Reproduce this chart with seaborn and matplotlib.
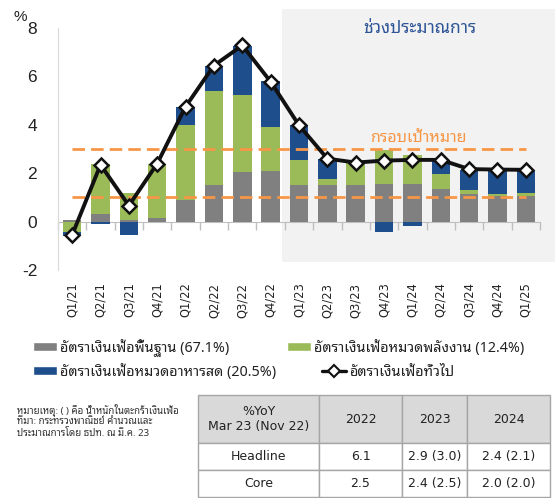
import numpy as np
import pandas as pd
import matplotlib
matplotlib.use("Agg")
import matplotlib.pyplot as plt
import seaborn as sns
from matplotlib.patches import Patch, Rectangle
from matplotlib.lines import Line2D

# ---------------- data ----------------
quarters = ["Q1/21", "Q2/21", "Q3/21", "Q4/21", "Q1/22", "Q2/22", "Q3/22", "Q4/22",
            "Q1/23", "Q2/23", "Q3/23", "Q4/23", "Q1/24", "Q2/24", "Q3/24", "Q4/24", "Q1/25"]
core = [0.05, 0.30, 0.05, 0.15, 0.90, 1.50, 2.05, 2.10, 1.50, 1.50, 1.50, 1.55, 1.55, 1.35, 1.15, 1.07, 1.07]
energy = [-0.45, 2.10, 1.15, 2.25, 3.10, 3.90, 3.20, 1.80, 1.05, 0.25, 0.95, 1.40, 1.20, 0.60, 0.15, 0.08, 0.13]
food = [-0.15, -0.08, -0.57, -0.03, 0.72, 1.05, 2.00, 1.90, 1.45, 0.85, 0.00, -0.45, -0.20, 0.60, 0.85, 1.00, 0.90]
headline = [-0.55, 2.35, 0.66, 2.40, 4.75, 6.45, 7.28, 5.78, 3.98, 2.60, 2.44, 2.52, 2.55, 2.55, 2.17, 2.15, 2.14]
target_band = [1.0, 3.0]

series_names = ["อัตราเงินเฟ้อพื้นฐาน (67.1%)", "อัตราเงินเฟ้อหมวดพลังงาน (12.4%)",
                "อัตราเงินเฟ้อหมวดอาหารสด (20.5%)"]
line_name = "อัตราเงินเฟ้อทั่วไป"
forecast_label = "ช่วงประมาณการ"
target_label = "กรอบเป้าหมาย"
yticks = [-2, 0, 2, 4, 6, 8]

footnotes = ["หมายเหตุ: ( ) คือ น้ำหนักในตะกร้าเงินเฟ้อ",
             "ที่มา: กระทรวงพาณิชย์ คำนวณและ",
             "ประมาณการโดย ธปท. ณ มี.ค. 23"]
table_cols = ["%YoY\nMar 23 (Nov 22)", "2022", "2023", "2024"]
table_rows = [["Headline", "6.1", "2.9 (3.0)", "2.4 (2.1)"],
              ["Core", "2.5", "2.4 (2.5)", "2.0 (2.0)"]]

# ---------------- style ----------------
sns.set_style("white")
THAI = ["Noto Sans Thai Looped", "DejaVu Sans"]
plt.rcParams["font.family"] = THAI

colors = ["#808080", "#9bbb59", "#1f4e8c"]
ORANGE = "#f79646"

W, H = 558, 498
fig = plt.figure(figsize=(W / 100, H / 100), dpi=100)

def fx(px):
    return px / W

def fy(py):
    return 1 - py / H

ax = fig.add_axes([fx(58), fy(270), fx(540) - fx(58), fy(28) - fy(270)])
ax.patch.set_visible(False)

n = len(quarters)
pos = np.arange(n)

# stacked bars with separate positive / negative stacks
pos_cum = np.zeros(n)
neg_cum = np.zeros(n)
for vals, col in zip([core, energy, food], colors):
    v = np.array(vals, dtype=float)
    bottom = np.where(v >= 0, pos_cum, neg_cum)
    df = pd.DataFrame({"q": quarters, "v": v})
    sns.barplot(data=df, x="q", y="v", color=col, width=0.65, bottom=bottom,
                saturation=1, ax=ax, zorder=2, linewidth=0)
    pos_cum = pos_cum + np.where(v >= 0, v, 0)
    neg_cum = neg_cum + np.where(v < 0, v, 0)

# target band dashed lines
ax.hlines(target_band, pos[0], pos[-1], colors=ORANGE, linewidth=2.0,
          linestyles=(0, (4.5, 2.2)), zorder=3)

# headline line
sns.lineplot(x=pos, y=headline, ax=ax, color="#111111", linewidth=2.8,
             marker="D", markersize=7.5, markerfacecolor="white",
             markeredgecolor="#111111", markeredgewidth=1.8, zorder=5)

ax.set_xlim(-0.5, n - 0.5)
ax.set_ylim(-2, 8)

# forecast shading
ax.add_patch(Rectangle((7.4, -1.67), 17.03 - 7.4, 8.79 + 1.67, facecolor="#f2f2f2",
                       edgecolor="none", zorder=0, clip_on=False))

# axes styling
for s in ["top", "right", "bottom"]:
    ax.spines[s].set_visible(False)
ax.spines["left"].set_color("#d9d9d9")
ax.set_xticks(pos)
ax.set_xticklabels(quarters, rotation=90, family=["DejaVu Sans"], fontsize=8.3, color="#222222")
ax.tick_params(axis="x", length=0, pad=9)
ax.set_yticks(yticks)
ax.set_yticklabels([str(t) for t in yticks], family=["Liberation Sans"], fontsize=12.5, color="#222222")
ax.tick_params(axis="y", length=0, pad=15)
ax.set_xlabel("")
ax.set_ylabel("")

# zero axis line with category-boundary tick marks
zax = ax.secondary_xaxis(0, transform=ax.transData)
zax.set_xticks(np.arange(-0.5, n, 1))
zax.set_xticklabels([])
zax.tick_params(length=6, color="#bfbfbf", width=1, direction="out")
zax.spines["bottom"].set_color("#bfbfbf")

# annotations
ax.text(12.27, 8.0, forecast_label, color="#2e5597", fontsize=12.5, ha="center", va="center", zorder=6)
ax.text(12.2, 3.45, target_label, color=ORANGE, fontsize=11.5, ha="center", va="center", zorder=6)
fig.text(fx(20), fy(17), "%", fontsize=11, ha="center", va="center", family=["Liberation Sans"], color="#222222")

# legends (one per entry, positioned like the reference)
def add_leg(handle, label, x, y, hl=1.7):
    fig.legend([handle], [label], loc="center left", bbox_to_anchor=(fx(x), fy(y)),
               frameon=False, borderpad=0, borderaxespad=0, handlelength=hl,
               handleheight=0.6, handletextpad=0.2, fontsize=10.3, labelcolor="#222222")

add_leg(Patch(facecolor=colors[0]), series_names[0], 33, 348)
add_leg(Patch(facecolor=colors[1]), series_names[1], 287, 348)
add_leg(Patch(facecolor=colors[2]), series_names[2], 33, 372)
add_leg(Line2D([], [], color="#111111", lw=2.4, marker="D", markersize=6,
               markerfacecolor="white", markeredgecolor="#111111", markeredgewidth=1.5),
        line_name, 322, 372)

# footnotes
for i, t in enumerate(footnotes):
    fig.text(fx(17), fy(410 + 11.5 * i), t, fontsize=7, va="center", ha="left", color="#333333")

# table
tax = fig.add_axes([fx(198), fy(497), fx(550) - fx(198), fy(395) - fy(497)])
tax.axis("off")
tbl = tax.table(cellText=table_rows, colLabels=table_cols, cellLoc="center",
                colWidths=[121, 83, 65, 83], bbox=[0, 0, 1, 1])
tbl.auto_set_font_size(False)
for (r, c), cell in tbl.get_celld().items():
    cell.set_edgecolor("#a6a6a6")
    cell.set_linewidth(1.0)
    cell.get_text().set_fontsize(9)
    cell.get_text().set_family(["DejaVu Sans"])
    cell.get_text().set_color("#222222")
    if r == 0:
        cell.set_facecolor("#d9d9d9")
        cell.set_height(48)
    else:
        cell.set_height(27)

fig.savefig("out.png", dpi=100)
